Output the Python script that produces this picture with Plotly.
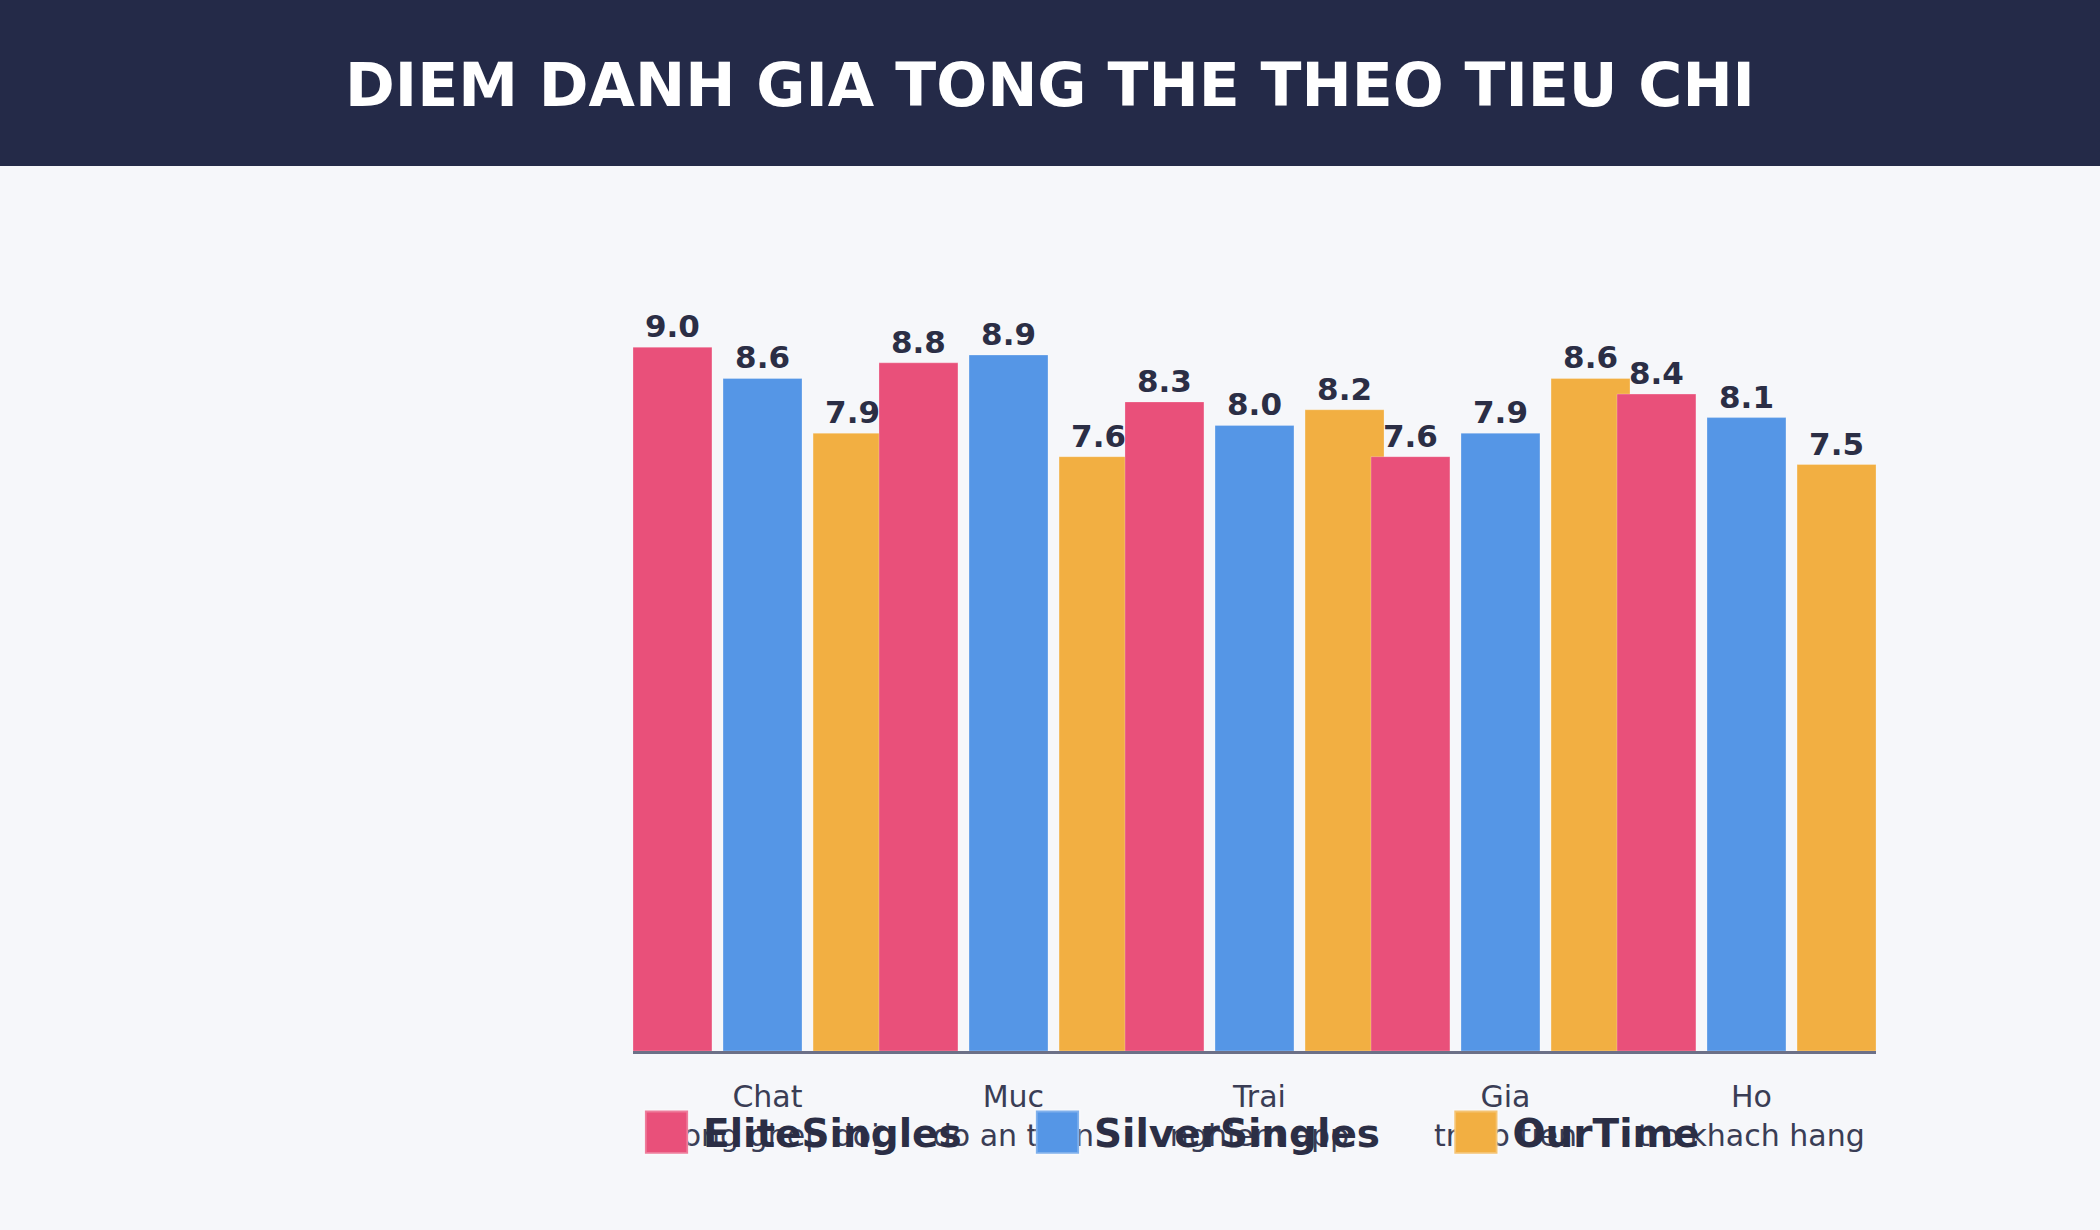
import plotly.graph_objects as go

# data
categories = [
    "Chat<br>luong ghep doi",
    "Muc<br>do an toan",
    "Trai<br>nghiem app",
    "Gia<br>tri so tien",
    "Ho<br>tro khach hang",
]
series_names = ["EliteSingles", "SilverSingles", "OurTime"]
elite_scores = [9.0, 8.8, 8.3, 7.6, 8.4]
silver_scores = [8.6, 8.9, 8.0, 7.9, 8.1]
ourtime_scores = [7.9, 7.6, 8.2, 8.6, 7.5]

# colors
red_color = '#e9507a'
blue_color = '#5596e6'
yellow_color = '#f2af42'
header_color = '#242a48'
background_color = '#f6f7fa'
text_color = '#2b2e45'
tick_color = '#3a3d55'
axis_color = '#6c7087'
font_family = 'DejaVu Sans, Verdana, sans-serif'

bar_width = 0.321
bar_pitch = 0.366
group_shift = -0.02  # bars sit a little left of the tick labels

# padding after each legend name so the entries spread out like the original
legend_pad = '\u00a0' * 4

# (name, values, colour, slot) - OurTime first so the next group's red bar sits on top of it
series = [
    (series_names[2], ourtime_scores, yellow_color, 1),
    (series_names[1], silver_scores, blue_color, 0),
    (series_names[0], elite_scores, red_color, -1),
]

fig = go.Figure()

for name, values, color, slot in series:
    fig.add_trace(
        go.Bar(
            name=name + legend_pad,
            x=list(range(len(categories))),
            y=values,
            width=bar_width,
            offset=slot * bar_pitch - bar_width / 2 + group_shift,
            marker=dict(
                color=color,
                line=dict(color='rgba(255,255,255,0.25)', width=1),
            ),
            texttemplate='%{y:.1f}',
            textposition='outside',
            textfont=dict(family=font_family, size=31, color=text_color, weight='bold'),
            cliponaxis=False,
        )
    )

# header band
fig.add_shape(
    type='rect',
    xref='paper', yref='paper',
    x0=-1, x1=2, y0=1.1317, y1=1.5,
    fillcolor=header_color,
    line=dict(width=0),
    layer='below',
)

edge = bar_pitch + bar_width / 2
fig.update_xaxes(
    tickmode='array',
    tickvals=list(range(len(categories))),
    ticktext=categories,
    range=[-edge + group_shift, len(categories) - 1 + edge + group_shift],
    showgrid=False,
    zeroline=False,
    showline=True,
    linecolor=axis_color,
    linewidth=3,
    ticks='',
    ticklabelstandoff=17,
    tickfont=dict(family=font_family, size=30, color=tick_color),
)
fig.update_yaxes(
    range=[0, 10],
    showgrid=False,
    zeroline=False,
    showticklabels=False,
    showline=False,
)

fig.update_layout(
    width=2100,
    height=1230,
    barmode='overlay',
    margin=dict(l=633, r=224, t=269, b=179),
    paper_bgcolor=background_color,
    plot_bgcolor=background_color,
    font=dict(family=font_family, color=text_color),
    title=dict(
        text='DIEM DANH GIA TONG THE THEO TIEU CHI',
        font=dict(family=font_family, size=60, color='white', weight='bold'),
        x=0.5, xref='container', xanchor='center',
        y=1 - 85 / 1230, yref='container', yanchor='middle',
    ),
    legend=dict(
        orientation='h',
        traceorder='reversed',
        x=-0.0024, xanchor='left',
        y=-0.104, yanchor='middle',
        itemwidth=63,
        font=dict(family=font_family, size=39, color=text_color, weight='bold'),
        bgcolor='rgba(0,0,0,0)',
    ),
    showlegend=True,
)

post_script = """
document.body.style.margin = '0';
document.body.style.overflow = 'hidden';
var gd = document.getElementById('{plot_id}');
gd.querySelectorAll('.legendpoints path').forEach(function(p) {
    var t = p.getAttribute('transform') || '';
    p.setAttribute('transform', t + ' scale(3.6)');
});
"""

fig.write_html("out.html", post_script=post_script, config={'displayModeBar': False})
